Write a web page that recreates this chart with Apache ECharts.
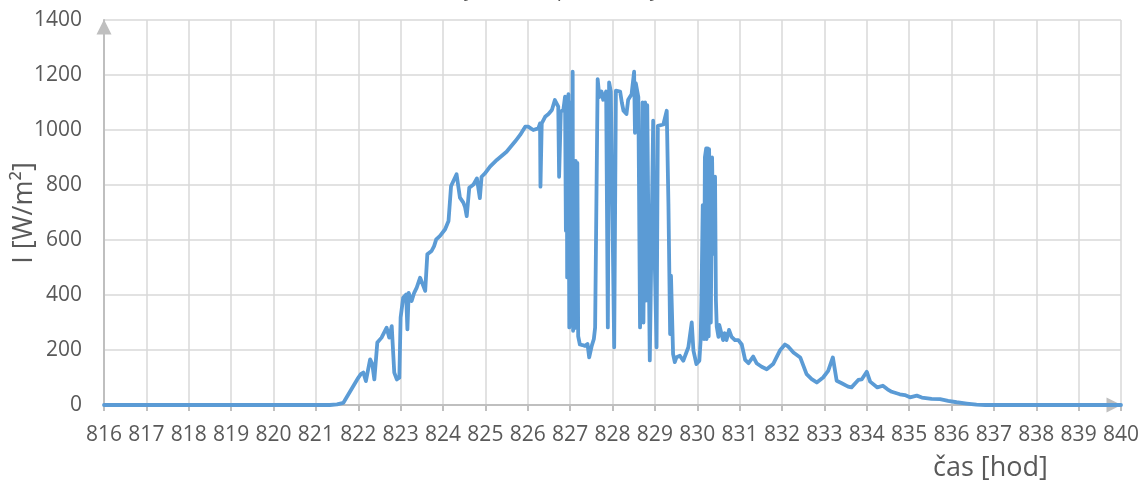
<!DOCTYPE html>
<html>
<head>
<meta charset="utf-8">
<script src="https://cdn.jsdelivr.net/npm/echarts@6/dist/echarts.min.js"></script>
<style>
html,body{margin:0;padding:0;background:#fff;}
#chart{width:1142px;height:483px;}
</style>
</head>
<body>
<div id="chart"></div>
<script>
// time [hod]
var hours = [
816.00,821.33,821.50,821.65,822.00,822.06,822.12,822.18,822.28,822.33,822.38,822.45,822.55,822.67,822.73,822.79,822.85,822.91,822.97,
823.00,823.06,823.13,823.16,823.19,823.26,823.32,823.38,823.46,823.58,823.63,823.73,823.79,823.84,823.93,
824.05,824.13,824.17,824.19,824.32,824.40,824.48,824.52,824.56,824.62,824.72,824.80,824.87,824.91,824.99,
825.11,825.27,825.50,825.70,825.82,825.94,826.01,826.13,826.25,826.29,826.30,826.33,826.41,826.49,826.57,826.64,826.72,826.74,826.78,826.84,826.88,826.90,826.92,826.93,826.96,826.98,
827.02,827.04,827.06,827.07,827.09,827.11,827.13,827.15,827.17,827.19,827.23,827.29,827.35,827.41,827.45,827.51,827.56,827.59,827.62,827.65,827.69,827.74,827.78,827.85,827.89,827.92,827.96,827.99,
828.04,828.08,828.18,828.22,828.26,828.33,828.37,828.45,828.51,828.53,828.55,828.61,828.65,828.69,828.71,828.73,828.77,828.79,828.82,828.85,828.88,828.96,
829.00,829.04,829.07,829.20,829.28,829.32,829.36,829.38,829.43,829.47,829.51,829.59,829.67,829.79,829.87,829.91,829.98,
830.05,830.08,830.10,830.13,830.16,830.18,830.21,830.22,830.25,830.27,830.28,830.32,830.35,830.38,830.42,830.44,830.46,830.50,830.52,830.61,830.65,830.69,830.75,830.81,830.89,830.97,
831.05,831.13,831.21,831.32,831.40,831.52,831.64,831.79,831.95,832.07,832.15,832.27,832.43,832.58,832.70,832.82,832.97,
833.09,833.20,833.29,833.41,833.56,833.64,833.80,833.88,834.00,834.08,834.25,834.38,834.49,834.59,834.78,834.90,
835.02,835.18,835.30,835.53,835.73,835.92,836.12,836.36,836.59,836.80,840.00
];
// I [W/m2]
var irradiance = [
0,0,2,8,99,112,118,87,166,150,93,227,245,281,245,287,118,93,99,
318,390,402,275,408,378,408,427,463,415,548,560,578,602,615,
639,669,675,796,839,754,736,720,687,790,802,824,752,830,842,
867,891,921,958,982,1012,1012,1000,1006,1024,794,1024,1048,1058,1073,1109,1085,830,1067,1073,1121,634,1120,464,1130,282,
1100,290,1212,270,700,280,888,300,880,250,220,218,215,222,173,215,240,282,285,1185,1120,1140,1110,1140,282,1173,1140,1140,
210,1143,1140,1100,1070,1058,1110,1130,1212,990,1170,1120,282,620,1100,300,1100,380,1090,600,162,1034,
500,210,1015,1020,1070,731,258,470,185,156,174,179,161,210,300,198,149,
161,236,394,727,240,900,933,240,933,250,930,300,900,550,830,382,285,248,291,236,261,236,273,248,236,236,
220,164,152,176,152,139,130,149,198,220,212,191,173,112,94,82,100,
124,173,88,79,67,64,91,93,121,85,64,70,57,48,39,36,
28,34,27,22,21,15,10,5,1,0,0
];
var xTicks = {min: 816, max: 840, step: 1};
var yTicks = {min: 0, max: 1400, step: 200};

var seriesData = hours.map(function (h, i) { return [h, irradiance[i]]; });

var chart = echarts.init(document.getElementById('chart'), null, {renderer: 'canvas'});
var FONT = 'Open Sans';
chart.setOption({
  animation: false,
  backgroundColor: '#ffffff',
  title: {
    text: 'Intenzity záření v průběhu týdne',
    left: 389,
    top: -25,
    textStyle: {fontFamily: FONT, fontSize: 20, fontWeight: 'normal', color: '#595959'}
  },
  grid: {left: 104, right: 21, top: 20, bottom: 78, outerBoundsMode: 'none', containLabel: false},
  xAxis: {
    type: 'value',
    min: xTicks.min, max: xTicks.max, interval: xTicks.step,
    axisLine: {show: true, symbol: ['none', 'triangle'], symbolSize: [15, 15], symbolOffset: [0, -7],
      lineStyle: {color: '#BFBFBF', width: 2}},
    axisTick: {show: true, length: 6, lineStyle: {color: '#BFBFBF', width: 2}},
    axisLabel: {fontFamily: FONT, fontSize: 21, color: '#595959', margin: 20,
      formatter: function (v) { return String(v); }},
    splitLine: {show: true, lineStyle: {color: '#D9D9D9', width: 1.5}}
  },
  yAxis: {
    type: 'value',
    min: yTicks.min, max: yTicks.max, interval: yTicks.step,
    axisLine: {show: true, symbol: ['none', 'triangle'], symbolSize: [15, 15], symbolOffset: [0, -7],
      lineStyle: {color: '#BFBFBF', width: 2}},
    axisTick: {show: false},
    axisLabel: {fontFamily: FONT, fontSize: 21, color: '#595959', margin: 22,
      formatter: function (v) { return String(v); }},
    splitLine: {show: true, lineStyle: {color: '#D9D9D9', width: 1.5}}
  },
  graphic: [{
    type: 'text',
    x: 24,
    y: 213,
    rotation: Math.PI / 2,
    style: {text: 'I [W/m²]', font: '27px "Open Sans"', fill: '#595959', align: 'center', verticalAlign: 'middle'}
  }, {
    type: 'text',
    left: 933,
    top: 455,
    style: {text: 'čas [hod]', font: '27px "Open Sans"', fill: '#595959'}
  }],
  series: [{
    type: 'line',
    data: seriesData,
    showSymbol: false,
    symbol: 'none',
    lineStyle: {color: '#5B9BD5', width: 3.8, join: 'round', cap: 'round'},
    itemStyle: {color: '#5B9BD5'},
    z: 3
  }]
});
</script>
</body>
</html>
